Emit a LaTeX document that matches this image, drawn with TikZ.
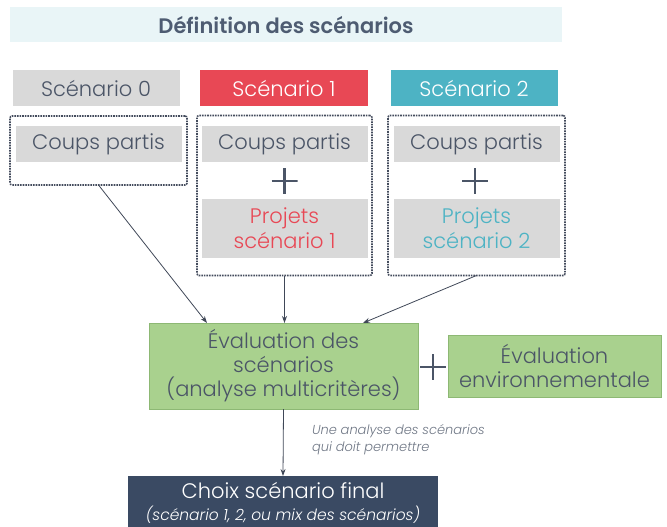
\documentclass[tikz,border=0pt]{standalone}
\usepackage{fontspec}
\setmainfont{Poppins}[UprightFont=* Light, ItalicFont=* Light Italic, BoldFont=* SemiBold]
\usetikzlibrary{arrows.meta}

\definecolor{txtgray}{HTML}{4B5567}
\definecolor{boxgray}{HTML}{D9D9D9}
\definecolor{sceRed}{HTML}{E84855}
\definecolor{sceTeal}{HTML}{4DB3C4}
\definecolor{titleBg}{HTML}{E9F5F7}
\definecolor{evalGreen}{HTML}{A9D18E}
\definecolor{evalBorder}{HTML}{8DB874}
\definecolor{finalNavy}{HTML}{3A4A63}

\tikzset{
	every node/.style={inner sep=0pt, outer sep=0pt, align=center, text=txtgray},
	head/.style={minimum height=36pt, font=\fontsize{21}{24}\selectfont},
	greybox/.style={fill=boxgray, minimum width=166pt, font=\fontsize{21}{25}\selectfont},
	group/.style={draw=txtgray!90!black, densely dotted, line width=1.6pt, rounded corners=2pt},
	plusmark/.style={minimum size=26pt, path picture={
		\draw[txtgray, line width=2.4pt] (path picture bounding box.west) -- (path picture bounding box.east);
		\draw[txtgray, line width=2.4pt] (path picture bounding box.north) -- (path picture bounding box.south);}},
	greenbox/.style={fill=evalGreen, draw=evalBorder, line width=0.8pt, font=\fontsize{21}{24}\selectfont},
	arr/.style={draw=txtgray!85!black, line width=0.8pt, -{Stealth[length=7pt, width=5pt]}},
}

\begin{document}
\begin{tikzpicture}[x=1pt, y=-1pt]
		\useasboundingbox (0,0) rectangle (667,527);
		
		\node[fill=titleBg, minimum width=552pt, minimum height=35pt, font=\bfseries\fontsize{21}{24}\selectfont, text=finalNavy!90] (title) at (286,25) {Définition des scénarios};
		
		\node[head, fill=boxgray, minimum width=167pt] (sc0) at (96,88) {Scénario 0};
		\node[head, fill=sceRed, minimum width=168pt, text=white] (sc1) at (284,88) {Scénario 1};
		\node[head, fill=sceTeal, minimum width=167pt, text=white] (sc2) at (474,88) {Scénario 2};
		
		% dotted groups
		\node[group, minimum width=177pt, minimum height=69pt] (grp0) at (98.5,150.5) {};
		\node[group, minimum width=175pt, minimum height=160pt] (grp1) at (284.5,195.5) {};
		\node[group, minimum width=177pt, minimum height=160pt] (grp2) at (476.5,195.5) {};
		
		\node[greybox, minimum height=36pt] (cp0) at (98.5,144) {Coups partis};
		\node[greybox, minimum height=36pt] (cp1) at (284.5,144) {Coups partis};
		\node[greybox, minimum height=36pt] (cp2) at (476.5,144) {Coups partis};
		
		\node[plusmark] (plus1) at (284.5,181) {};
		\node[plusmark] (plus2) at (475,181) {};
		
		\node[greybox, minimum height=59pt, text=sceRed] (pj1) at (284.5,228.5) {Projets\\scénario 1};
		\node[greybox, minimum height=59pt, text=sceTeal] (pj2) at (476.5,228.5) {Projets\\scénario 2};
		
		% evaluation
		\node[greenbox, minimum width=269pt, minimum height=86pt] (eval) at (283.5,366) {Évaluation des\\scénarios\\(analyse multicritères)};
		\node[plusmark] (plus3) at (433,367) {};
		\node[greenbox, minimum width=213pt, minimum height=62pt] (env) at (554.5,366) {Évaluation\\environnementale};
		
		\node[fill=finalNavy, minimum width=310pt, minimum height=53pt, text=white, font=\fontsize{21}{23}\selectfont] (choix) at (283,502.5) {Choix scénario final\\[-1pt]{\itshape\fontsize{15.5}{17}\selectfont (scénario 1, 2, ou mix des scénarios)}};
		
		\node[anchor=west, text=txtgray!80, font=\itshape\fontsize{13}{17}\selectfont, align=left] (note) at (312,440) {Une analyse des scénarios\\qui doit permettre};
		
		\draw[arr] (grp0.south) -- ([xshift=58pt]eval.north west);
		\draw[arr] (grp1.south) -- (grp1.south |- eval.north);
		\draw[arr] (grp2.south) -- ([xshift=-55pt]eval.north east);
		\draw[arr] (eval.south) -- (choix.north);
\end{tikzpicture}
\end{document}
